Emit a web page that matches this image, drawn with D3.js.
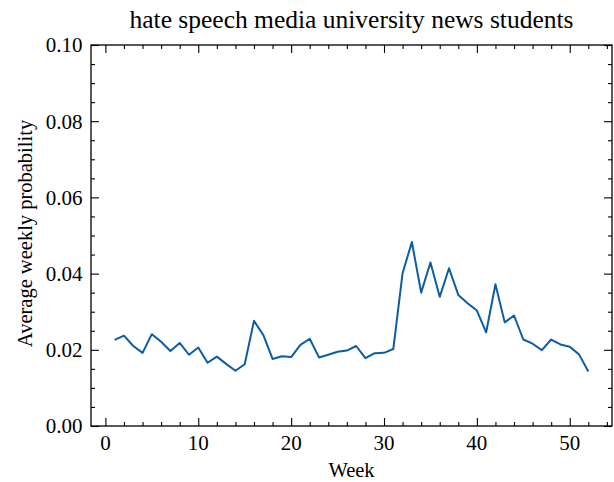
<!DOCTYPE html>
<html>
<head>
<meta charset="utf-8">
<script src="https://cdn.jsdelivr.net/npm/d3@7"></script>
<style>
  html, body { margin: 0; padding: 0; background: #fff; }
  svg { display: block; font-family: "Liberation Serif", "DejaVu Serif", serif; }
</style>
</head>
<body>
<svg id="chart" width="614" height="482"></svg>
<script>
// Weekly average probability for the topic, weeks 1-52
const weeks = d3.range(1, 53);
const probability = [
  0.0226, 0.0237, 0.0210, 0.0192, 0.0241, 0.0221, 0.0197, 0.0218, 0.0187, 0.0206,
  0.0166, 0.0182, 0.0163, 0.0145, 0.0162, 0.0276, 0.0239, 0.0176, 0.0183, 0.0181,
  0.0213, 0.0229, 0.0180, 0.0187, 0.0195, 0.0198, 0.0210, 0.0178, 0.0191, 0.0192,
  0.0202, 0.0401, 0.0483, 0.0350, 0.0429, 0.0339, 0.0414, 0.0344, 0.0322, 0.0303,
  0.0246, 0.0372, 0.0272, 0.0290, 0.0227, 0.0216, 0.0199, 0.0227, 0.0214, 0.0208,
  0.0188, 0.0143
];
const xTicks = [0, 10, 20, 30, 40, 50];
const yTicks = [0.00, 0.02, 0.04, 0.06, 0.08, 0.10];
const titleText = "hate speech media university news students";
const xLabel = "Week";
const yLabel = "Average weekly probability";

const svg = d3.select("#chart");
const margin = { left: 91, right: 2, top: 45, bottom: 56 };
const W = 614, H = 482;
const x0 = margin.left, x1 = W - margin.right;
const y0 = H - margin.bottom, y1 = margin.top;

// x range padded by 5% of the data span on each side
const span = d3.max(weeks) - d3.min(weeks);
const x = d3.scaleLinear()
  .domain([d3.min(weeks) - 0.05 * span, d3.max(weeks) + 0.05 * span])
  .range([x0, x1]);
const y = d3.scaleLinear().domain([0, 0.10]).range([y0, y1]);

const majorLen = 8, minorLen = 4;
const tickColor = "#000";
const xMinor = d3.range(0, 55, 2).filter(v => !xTicks.includes(v) && v >= x.domain()[0] && v <= x.domain()[1]);
const yMinor = d3.range(0, 0.1001, 0.005).filter(v => !yTicks.some(t => Math.abs(t - v) < 1e-9));

// Inward ticks on all four sides
function drawTicks(g, axisFn, scale, vals, len) {
  g.call(axisFn(scale).tickValues(vals).tickSize(len).tickFormat(""))
    .call(s => s.select(".domain").remove())
    .call(s => s.selectAll("line").attr("stroke", tickColor).attr("stroke-width", 1.1));
}
drawTicks(svg.append("g").attr("transform", `translate(0,${y0})`), d3.axisTop, x, xTicks, majorLen);
drawTicks(svg.append("g").attr("transform", `translate(0,${y0})`), d3.axisTop, x, xMinor, minorLen);
drawTicks(svg.append("g").attr("transform", `translate(0,${y1})`), d3.axisBottom, x, xTicks, majorLen);
drawTicks(svg.append("g").attr("transform", `translate(0,${y1})`), d3.axisBottom, x, xMinor, minorLen);
drawTicks(svg.append("g").attr("transform", `translate(${x0},0)`), d3.axisRight, y, yTicks, majorLen);
drawTicks(svg.append("g").attr("transform", `translate(${x0},0)`), d3.axisRight, y, yMinor, minorLen);
drawTicks(svg.append("g").attr("transform", `translate(${x1},0)`), d3.axisLeft, y, yTicks, majorLen);
drawTicks(svg.append("g").attr("transform", `translate(${x1},0)`), d3.axisLeft, y, yMinor, minorLen);

// Tick labels
svg.append("g").selectAll("text").data(xTicks).join("text")
  .attr("x", d => x(d)).attr("y", y0 + 23.5)
  .attr("text-anchor", "middle").attr("font-size", 21)
  .text(d => d);
svg.append("g").selectAll("text").data(yTicks).join("text")
  .attr("x", x0 - 8.5).attr("y", d => y(d) + 7.3)
  .attr("text-anchor", "end").attr("font-size", 21)
  .text(d => d.toFixed(2));

// Data line
const line = d3.line().x((d, i) => x(weeks[i])).y(d => y(d));
svg.append("path").datum(probability)
  .attr("d", line)
  .attr("fill", "none")
  .attr("stroke", "#0C5DA5")
  .attr("stroke-width", 2)
  .attr("stroke-linejoin", "round");

// Frame
svg.append("rect")
  .attr("x", x0).attr("y", y1)
  .attr("width", x1 - x0).attr("height", y0 - y1)
  .attr("fill", "none").attr("stroke", "#000").attr("stroke-width", 1.3);

// Title and axis labels
svg.append("text").attr("x", (x0 + x1) / 2).attr("y", 28)
  .attr("text-anchor", "middle").attr("font-size", 25.5).text(titleText);
svg.append("text").attr("x", (x0 + x1) / 2).attr("y", 477.3)
  .attr("text-anchor", "middle").attr("font-size", 20.5).text(xLabel);
svg.append("text")
  .attr("transform", `translate(32,${(y0 + y1) / 2 - 2}) rotate(-90)`)
  .attr("text-anchor", "middle").attr("font-size", 20.5).text(yLabel);
</script>
</body>
</html>
